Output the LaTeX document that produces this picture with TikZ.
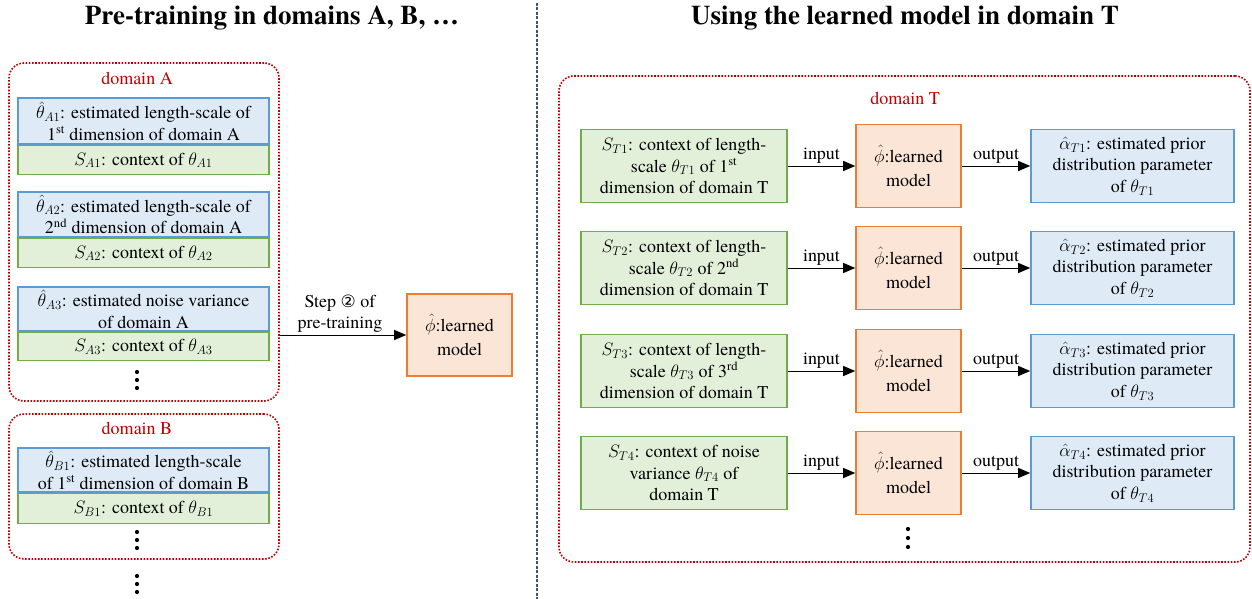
\RequirePackage{fix-cm}
\documentclass[tikz,border=0pt]{standalone}
\usepackage{fontspec}
\setmainfont{TeX Gyre Termes}
\newfontfamily\dejavu{DejaVu Sans}
\usetikzlibrary{arrows.meta}
\definecolor{bfill}{HTML}{DEEBF7}
\definecolor{bdraw}{HTML}{5B9BD5}
\definecolor{gfill}{HTML}{E2F0D9}
\definecolor{gdraw}{HTML}{70AD47}
\definecolor{ofill}{HTML}{FBE5D6}
\definecolor{odraw}{HTML}{ED7D31}
\definecolor{dred}{HTML}{C00000}
\definecolor{sep}{HTML}{44546A}
\tikzset{
  basebox/.style={align=center, inner sep=0pt, line width=1.6pt},
  bluebox/.style={basebox, fill=bfill, draw=bdraw},
  greenbox/.style={basebox, fill=gfill, draw=gdraw},
  orangebox/.style={basebox, fill=ofill, draw=odraw, minimum width=105pt, minimum height=83pt, font=\fontsize{18}{24}\selectfont},
  domainbox/.style={draw=dred, line width=1.6pt, dash pattern=on 1.6pt off 1.6pt, rounded corners=15pt, inner sep=0pt},
  domlabel/.style={text=dred, inner sep=0pt},
  arr/.style={-{Triangle[length=12pt,width=10pt]}, line width=1pt},
  lbl/.style={midway, above=2pt, inner sep=0pt, align=center},
  titlestyle/.style={font=\fontsize{27}{30}\selectfont\bfseries, inner sep=0pt},
  dotpt/.style={fill=black, draw=none},
  lbox/.style={minimum width=251pt},
  tgreen/.style={greenbox, minimum width=206pt, minimum height=73pt},
  tblue/.style={bluebox, minimum width=203pt, minimum height=73pt},
}
\begin{document}
\begin{tikzpicture}[x=1pt, y=-1pt, font=\fontsize{18}{21.5}\selectfont]
\useasboundingbox (0,0) rectangle (1252,599);

% titles
\node[titlestyle] (t1) at (272,18) {Pre-training in domains A, B, …};
\node[titlestyle] (t2) at (905,18) {Using the learned model in domain T};

% separator
\coordinate (s1) at (537,3);
\coordinate (s2) at (537,599);
\draw[sep, line width=1.2pt, dash pattern=on 3pt off 1.5pt] (s1) -- (s2);

% domain A
\node[domainbox, minimum width=270pt, minimum height=338pt] (domA) at (144,232) {};
\node[domlabel] (labA) at (137,78) {domain A};
\node[bluebox, lbox, minimum height=46pt] (a1) at (143.5,121) {$\hat{\theta}_{A1}$: estimated length-scale of\\1\textsuperscript{st} dimension of domain A};
\node[greenbox, lbox, minimum height=29pt, anchor=north] (sa1) at (a1.south) {$S_{A1}$: context of $\theta_{A1}$};
\node[bluebox, lbox, minimum height=45pt] (a2) at (143.5,214.5) {$\hat{\theta}_{A2}$: estimated length-scale of\\2\textsuperscript{nd} dimension of domain A};
\node[greenbox, lbox, minimum height=29pt, anchor=north] (sa2) at (a2.south) {$S_{A2}$: context of $\theta_{A2}$};
\node[bluebox, lbox, minimum height=44pt] (a3) at (143.5,309) {$\hat{\theta}_{A3}$: estimated noise variance\\of domain A};
\node[greenbox, lbox, minimum height=28pt, anchor=north] (sa3) at (a3.south) {$S_{A3}$: context of $\theta_{A3}$};
\foreach \yy in {372,380,388} \fill[dotpt] (137,\yy) circle (2.1pt);

% domain B
\node[domainbox, minimum width=270pt, minimum height=145pt] (domB) at (144,486.5) {};
\node[domlabel] (labB) at (137,428) {domain B};
\node[bluebox, lbox, minimum height=44pt] (b1) at (143.5,470) {$\hat{\theta}_{B1}$: estimated length-scale\\of 1\textsuperscript{st} dimension of domain B};
\node[greenbox, lbox, minimum height=30pt, anchor=north] (sb1) at (b1.south) {$S_{B1}$: context of $\theta_{B1}$};
\foreach \yy in {532,540,548} \fill[dotpt] (137,\yy) circle (2.1pt);
\foreach \yy in {576,584,592} \fill[dotpt] (137,\yy) circle (2.1pt);

% learned model (pre-training)
\node[orangebox, minimum height=82pt] (phi0) at (459.5,335) {$\hat{\phi}$:learned\\model};
\draw[arr] (domA.east |- phi0.west) -- node[lbl, xshift=-3pt] {Step {\dejavu\fontsize{17}{20}\selectfont ②} of\\pre-training} (phi0.west);

% domain T
\node[domainbox, minimum width=691pt, minimum height=486pt] (domT) at (904.5,319) {};
\node[domlabel] (labT) at (905,98) {domain T};

\node[tgreen] (g1) at (684,166) {$S_{T1}$: context of length-\\scale $\theta_{T1}$ of 1\textsuperscript{st}\\dimension of domain T};
\node[orangebox] (o1) at (908.5,166) {$\hat{\phi}$:learned\\model};
\node[tblue] (c1) at (1132.5,166) {$\hat{\alpha}_{T1}$: estimated prior\\distribution parameter\\of $\theta_{T1}$};

\node[tgreen] (g2) at (684,268) {$S_{T2}$: context of length-\\scale $\theta_{T2}$ of 2\textsuperscript{nd}\\dimension of domain T};
\node[orangebox] (o2) at (908.5,268) {$\hat{\phi}$:learned\\model};
\node[tblue] (c2) at (1132.5,268) {$\hat{\alpha}_{T2}$: estimated prior\\distribution parameter\\of $\theta_{T2}$};

\node[tgreen] (g3) at (684,371) {$S_{T3}$: context of length-\\scale $\theta_{T3}$ of 3\textsuperscript{rd}\\dimension of domain T};
\node[orangebox] (o3) at (908.5,371) {$\hat{\phi}$:learned\\model};
\node[tblue] (c3) at (1132.5,371) {$\hat{\alpha}_{T3}$: estimated prior\\distribution parameter\\of $\theta_{T3}$};

\node[tgreen] (g4) at (684,473) {$S_{T4}$: context of noise\\variance $\theta_{T4}$ of\\domain T};
\node[orangebox] (o4) at (908.5,473) {$\hat{\phi}$:learned\\model};
\node[tblue] (c4) at (1132.5,473) {$\hat{\alpha}_{T4}$: estimated prior\\distribution parameter\\of $\theta_{T4}$};

\foreach \i in {1,2,3,4} {
  \draw[arr] (g\i.east) -- node[lbl] {input} (o\i.west);
  \draw[arr] (o\i.east) -- node[lbl] {output} (c\i.west);
}
\foreach \yy in {529,538,547} \fill[dotpt] (908,\yy) circle (2.1pt);
\end{tikzpicture}
\end{document}
